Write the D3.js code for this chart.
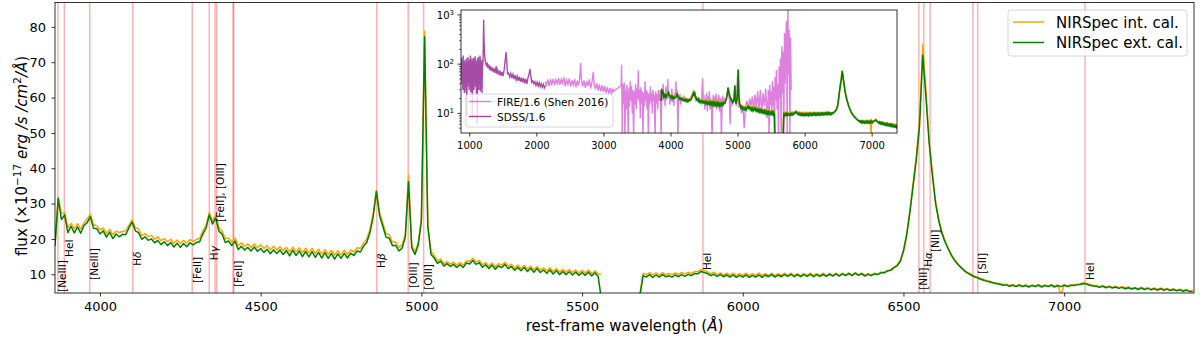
<!DOCTYPE html>
<html>
<head>
<meta charset="utf-8">
<script src="https://cdn.jsdelivr.net/npm/d3@7"></script>
<style>
  body { margin: 0; background: #fff; }
  svg { display: block; font-family: "DejaVu Sans", sans-serif; }
</style>
</head>
<body>
<script>
// ---- data ----
// NIRSpec spectrum, sampled every 10 A, two chunks either side of the detector gap
const waveBlue = d3.range(3860, 5561, 10);
const waveRed = d3.range(5680, 7401, 10);

const extBlue = [
  18.0, 31.5, 25.5, 26.8, 21.8, 23.6, 21.7, 23.4, 21.6, 23.8,
  24.6, 26.3, 23.0, 22.9, 21.4, 22.3, 20.5, 21.9, 20.1, 21.4,
  20.6, 21.3, 21.2, 23.1, 24.8, 22.3, 21.8, 19.9, 20.6, 19.6,
  20.0, 18.9, 19.6, 18.4, 19.2, 18.1, 19.0, 17.7, 18.8, 17.6,
  18.7, 17.8, 18.9, 18.3, 19.0, 19.2, 21.4, 23.0, 26.8, 24.2,
  26.0, 22.2, 21.3, 19.0, 19.4, 18.1, 19.4, 17.0, 17.9, 16.9,
  17.6, 16.6, 17.7, 16.5, 17.3, 16.2, 17.1, 15.8, 16.9, 15.9,
  16.9, 15.6, 16.7, 15.2, 16.8, 15.3, 16.6, 15.0, 16.5, 14.9,
  16.4, 14.8, 16.2, 14.6, 16.1, 14.5, 15.9, 14.3, 15.8, 14.5,
  15.9, 14.6, 16.0, 15.3, 16.6, 16.3, 17.9, 19.0, 21.8, 26.3,
  33.4, 26.6, 23.6, 20.5, 20.2, 18.1, 18.2, 16.6, 17.4, 20.5,
  36.2, 17.5, 15.6, 18.2, 25.0, 77.2, 23.5, 15.6, 14.6, 13.1,
  13.7, 12.3, 13.0, 12.2, 12.8, 11.9, 12.7, 11.9, 13.2, 12.9,
  13.9, 12.8, 13.3, 12.0, 12.7, 11.6, 12.6, 11.4, 12.4, 11.9,
  12.8, 11.6, 12.2, 11.1, 12.0, 11.0, 11.9, 10.8, 11.7, 10.6,
  11.6, 10.5, 11.2, 10.3, 11.2, 10.1, 11.0, 9.9, 10.8, 9.9,
  10.7, 9.8, 10.6, 9.7, 10.5, 9.7, 10.6, 9.5, 10.4, 9.4,
  3.0
];
const intBlue = [
  18.5, 31.8, 27.2, 27.4, 23.2, 24.4, 22.9, 24.3, 22.8, 24.5,
  25.6, 27.0, 24.0, 23.7, 22.6, 23.1, 21.6, 22.7, 21.2, 22.2,
  21.8, 22.1, 22.3, 23.8, 25.5, 23.2, 22.8, 20.9, 21.5, 20.7,
  21.0, 19.9, 20.6, 19.5, 20.1, 19.2, 19.9, 18.8, 19.7, 18.7,
  19.6, 18.9, 19.8, 19.3, 19.9, 20.1, 22.3, 23.9, 27.5, 25.1,
  26.8, 23.2, 22.2, 20.0, 20.3, 19.1, 20.3, 18.1, 18.9, 17.9,
  18.6, 17.6, 18.6, 17.5, 18.3, 17.3, 18.1, 16.9, 17.9, 16.9,
  17.8, 16.7, 17.6, 16.3, 17.7, 16.4, 17.5, 16.1, 17.4, 16.0,
  17.3, 15.9, 17.1, 15.7, 17.0, 15.6, 16.8, 15.4, 16.7, 15.5,
  16.8, 15.6, 16.9, 16.3, 17.5, 17.3, 18.8, 20.0, 22.7, 27.2,
  33.8, 27.5, 24.5, 21.5, 21.1, 19.1, 19.1, 17.6, 18.3, 21.3,
  38.1, 18.3, 16.4, 18.9, 25.8, 78.8, 24.3, 16.4, 15.3, 13.8,
  14.3, 13.0, 13.6, 12.9, 13.4, 12.6, 13.3, 12.6, 13.8, 13.6,
  14.5, 13.5, 13.9, 12.7, 13.3, 12.3, 13.2, 12.1, 13.0, 12.6,
  13.4, 12.3, 12.8, 11.8, 12.6, 11.7, 12.5, 11.5, 12.3, 11.3,
  12.2, 11.2, 11.8, 11.0, 11.8, 10.8, 11.6, 10.6, 11.4, 10.6,
  11.3, 10.5, 11.2, 10.4, 11.1, 10.4, 11.2, 10.2, 11.0, 10.1,
  10.0
];
const extRed = [
  4.0, 9.6, 9.2, 9.9, 9.1, 9.8, 9.2, 9.9, 9.3, 9.6,
  9.2, 9.8, 9.3, 9.9, 9.4, 10.0, 9.6, 10.2, 10.1, 10.8,
  10.5, 10.2, 9.6, 10.0, 9.4, 9.9, 9.3, 9.8, 9.2, 9.8,
  9.1, 9.7, 9.2, 9.8, 9.1, 9.7, 9.2, 9.8, 9.1, 9.8,
  9.3, 9.9, 9.2, 9.8, 9.3, 9.9, 9.4, 10.0, 9.3, 9.9,
  9.3, 9.9, 9.4, 10.0, 9.3, 9.9, 9.4, 10.0, 9.4, 10.0,
  9.5, 10.1, 9.5, 10.1, 9.6, 10.2, 9.6, 10.3, 9.7, 10.2,
  9.5, 10.0, 9.6, 10.1, 9.9, 10.4, 10.4, 10.9, 11.1, 11.8,
  12.4, 13.6, 16.5, 21.0, 27.5, 35.0, 42.5, 52.0, 72.0, 60.0,
  47.0, 38.0, 30.0, 25.0, 21.5, 19.0, 17.0, 15.2, 13.8, 12.7,
  11.8, 10.9, 10.3, 9.8, 9.3, 9.0, 8.6, 8.3, 8.0, 7.8,
  7.5, 7.3, 7.2, 6.9, 7.0, 6.6, 6.9, 6.5, 6.9, 6.5,
  6.8, 6.4, 6.8, 6.5, 6.9, 6.4, 6.8, 6.5, 6.9, 6.4,
  6.8, 6.5, 6.9, 6.5, 6.8, 6.8, 7.0, 7.1, 7.4, 7.2,
  6.9, 6.7, 6.6, 6.3, 6.6, 6.2, 6.5, 6.1, 6.4, 6.0,
  6.3, 5.9, 6.2, 5.8, 6.1, 5.7, 6.1, 5.7, 6.0, 5.6,
  5.9, 5.5, 5.9, 5.5, 5.8, 5.4, 5.7, 5.3, 5.6, 5.2,
  5.5, 5.1, 5.1
];
const intRed = [
  4.5, 10.3, 9.9, 10.5, 9.8, 10.4, 9.8, 10.5, 9.9, 10.2,
  9.9, 10.4, 10.0, 10.5, 10.1, 10.6, 10.2, 10.8, 10.7, 11.3,
  11.1, 10.7, 10.1, 10.6, 9.9, 10.4, 9.8, 10.3, 9.7, 10.3,
  9.6, 10.2, 9.7, 10.3, 9.6, 10.2, 9.7, 10.3, 9.6, 10.2,
  9.7, 10.3, 9.6, 10.2, 9.7, 10.3, 9.7, 10.3, 9.6, 10.2,
  9.6, 10.2, 9.7, 10.3, 9.6, 10.2, 9.7, 10.3, 9.7, 10.3,
  9.7, 10.3, 9.7, 10.3, 9.8, 10.4, 9.8, 10.5, 9.8, 10.3,
  9.7, 10.2, 9.8, 10.3, 10.1, 10.6, 10.6, 11.1, 11.3, 12.0,
  12.6, 13.9, 16.9, 21.5, 28.0, 35.8, 43.5, 54.0, 75.0, 62.0,
  48.0, 38.8, 30.6, 25.5, 21.9, 19.3, 17.3, 15.5, 14.0, 12.9,
  12.0, 11.1, 10.5, 10.0, 9.5, 9.2, 8.8, 8.5, 8.2, 8.0,
  7.7, 7.5, 7.4, 7.1, 7.2, 6.8, 7.1, 6.7, 7.1, 6.7,
  7.0, 6.6, 7.0, 6.7, 7.1, 6.6, 7.0, 6.7, 7.1, 6.6,
  7.0, 4.0, 7.1, 6.7, 7.0, 7.0, 7.2, 7.3, 7.6, 7.4,
  7.1, 6.9, 6.8, 6.5, 6.8, 6.4, 6.7, 6.3, 6.6, 6.2,
  6.5, 6.1, 6.4, 6.0, 6.3, 5.9, 6.3, 5.9, 6.2, 5.8,
  6.1, 5.7, 6.1, 5.7, 6.0, 5.6, 5.9, 5.5, 5.8, 5.4,
  5.7, 5.3, 5.3
];

// emission lines: rest wavelength, label, label foot (flux units)
const lineWaves = [3869, 3889, 3968, 4102, 4287, 4340, 4358, 4363, 4414, 4416, 4861, 4959, 5007, 5876, 6548, 6563, 6583, 6716, 6731, 7065];
const lineNames = ['[NeIII]', 'HeI', '[NeIII]', 'Hδ', '[FeII]', 'Hγ', '[FeII], [OIII]', '', '', '[FeII]', 'Hβ', '[OIII]', '[OIII]', 'HeI', '[NII]', 'Hα', '[NII]', '', '[SII]', 'HeI'];
const lineLabelY = [5.0, 14.9, 8.4, 12.4, 7.5, 14.0, 24.8, null, null, 6.4, 11.8, 6.1, 5.6, 11.2, 5.6, 12.1, 16.3, null, 10.1, 8.4];

// inset: SDSS and FIRE spectra (already divided by 1.6), [wavelength, flux]
const sdssPoints = [
  [878,70],[884,135],[890,40],[896,110],[902,30],[908,150],[914,45],[920,100],[926,26],[932,120],
  [938,50],[944,95],[950,28],[956,130],[962,9],[968,110],[974,35],[980,140],[986,60],[992,90],
  [998,30],[1004,125],[1010,45],[1016,150],[1022,27],[1028,105],[1034,55],[1040,130],[1046,8],[1052,115],
  [1058,40],[1064,135],[1070,30],[1076,100],[1082,50],[1088,145],[1094,35],[1100,120],[1106,25],[1112,110],
  [1118,6],[1124,130],[1130,45],[1136,140],[1142,30],[1148,115],[1154,55],[1160,150],[1166,28],[1172,125],
  [1178,40],[1184,110],[1190,26],[1196,120],[1202,95],[1208,200],[1214,800],[1220,300],[1228,160],[1236,120],
  [1246,105],[1256,90],[1266,108],[1276,84],[1290,98],[1304,76],[1318,90],[1332,72],[1346,86],[1360,68],
  [1376,82],[1392,66],[1400,92],[1408,64],[1424,76],[1440,61],[1456,74],[1472,58],[1488,70],[1504,57],
  [1520,78],[1540,140],[1549,175],[1558,110],[1570,64],[1586,66],[1602,55],[1618,65],[1634,52],[1650,62],
  [1666,50],[1682,60],[1698,48],[1714,57],[1730,46],[1746,56],[1762,44],[1778,53],[1794,43],[1810,52],
  [1826,41],[1842,50],[1858,40],[1874,52],[1890,62],[1904,80],[1915,60],[1930,43],[1946,46],[1962,40],
  [1978,44],[1994,37],[2010,43],[2026,36],[2042,42],[2058,35],[2074,40],[2090,34],[2106,39],[2122,33],
  [2135,37]
];
const firePoints = [
  [2130,44],[2150,38],[2170,49],[2190,36],[2210,47],[2230,39],[2250,50],[2270,37],[2290,48],[2310,40],
  [2330,52],[2350,38],[2370,49],[2390,41],[2410,54],[2430,36],[2450,48],[2470,39],[2490,51],[2510,35],
  [2530,47],[2550,38],[2570,50],[2590,34],[2610,46],[2630,37],[2650,60],[2660,105],[2670,50],[2690,35],
  [2710,47],[2730,33],[2750,45],[2770,36],[2790,49],[2810,32],[2830,44],[2850,70],[2860,40],[2880,31],
  [2900,41],[2920,29],[2940,39],[2960,28],[2980,37],[3000,27],[3020,36],[3040,26],[3060,34],[3080,25],
  [3100,33],[3120,25],[3140,31],[3150,28],[3265,37],[3270,97],[3275,30],[3280,3],[3285,40],[3290,35],
  [3300,15],[3310,42],[3320,3],[3330,30],[3340,12],[3350,38],[3360,20],[3370,3],[3380,33],[3390,14],
  [3400,45],[3410,18],[3420,36],[3430,10],[3440,30],[3450,3],[3460,28],[3470,15],[3480,40],[3490,12],
  [3500,32],[3510,20],[3520,75],[3530,18],[3540,30],[3550,8],[3560,34],[3570,16],[3580,28],[3590,3],
  [3600,26],[3610,14],[3620,45],[3630,18],[3640,30],[3650,12],[3660,27],[3670,3],[3680,25],[3690,15],
  [3700,35],[3710,17],[3720,26],[3730,10],[3740,30],[3750,18],[3760,24],[3770,3],[3780,28],[3790,16],
  [3800,25],[3810,12],[3820,30],[3830,18],[3840,22],[3850,30],[3860,3],[3870,28],[3880,18],[3890,40],
  [3900,20],[3910,26],[3920,14],[3930,35],[3940,19],[3950,24],[3960,50],[3970,20],[3980,28],[3990,15],
  [4000,24],[4010,18],[4020,32],[4030,17],[4040,22],[4050,14],[4060,26],[4070,20],[4080,45],[4090,21],
  [4100,30],[4110,3],[4120,22],[4130,18],[4140,25],[4150,16],[4200,22],[4250,17],[4300,21],[4340,26],
  [4380,18],[4420,20],[4460,16],[4470,30],[4480,52],[4490,18],[4500,24],[4510,12],[4520,20],[4530,14],
  [4540,26],[4550,11],[4560,22],[4570,15],[4580,28],[4590,12],[4600,20],[4610,16],[4620,3],[4630,18],
  [4640,24],[4650,13],[4660,22],[4670,17],[4680,25],[4690,12],[4700,20],[4710,15],[4720,24],[4730,11],
  [4740,21],[4750,16],[4760,3],[4770,19],[4780,23],[4790,14],[4800,20],[4820,17],[4840,22],[4860,30],
  [4880,18],[4890,6],[4900,20],[4920,15],[4940,18],[4960,35],[4980,14],[5000,60],[5010,40],[5020,13],
  [5040,16],[5060,10],[5080,15],[5100,5],[5120,14],[5140,18],[5160,12],[5180,20],[5200,14],[5220,22],
  [5240,11],[5260,24],[5280,13],[5300,28],[5320,12],[5340,30],[5360,10],[5380,26],[5400,14],[5420,32],
  [5440,8],[5460,30],[5470,3],[5480,38],[5490,15],[5500,28],[5510,10],[5520,45],[5530,14],[5540,35],
  [5550,3],[5560,55],[5570,18],[5580,76],[5590,12],[5600,40],[5610,3],[5620,90],[5630,20],[5640,130],
  [5650,3],[5660,230],[5670,25],[5680,180],[5690,3],[5700,430],[5710,40],[5720,300],[5730,750],[5740,3],
  [5750,1500],[5760,60],[5770,500],[5780,3],[5790,350],[5800,30]
];

// ticks
const xTicks = [4000, 4500, 5000, 5500, 6000, 6500, 7000];
const yTicks = [10, 20, 30, 40, 50, 60, 70, 80];
const insetXTicks = [1000, 2000, 3000, 4000, 5000, 6000, 7000];
const insetYTicks = [10, 100, 1000];

// ---- layout ----
const width = 1200;
const height = 339;
const plot = { left: 55, right: 1194, top: 2.5, bottom: 293 };
const inset = { left: 461, right: 897, top: 10, bottom: 133 };
const colInt = '#ffa500';
const colExt = '#008000';

const svg = d3.select('body').append('svg')
    .attr('width', width)
    .attr('height', height);

const x = d3.scaleLinear().domain([3860, 7404]).range([plot.left, plot.right]);
const y = d3.scaleLinear().domain([4.7, 86.9]).range([plot.bottom, plot.top]);

const defs = svg.append('defs');
defs.append('clipPath').attr('id', 'clipMain').append('rect')
    .attr('x', plot.left).attr('y', plot.top)
    .attr('width', plot.right - plot.left).attr('height', plot.bottom - plot.top);
defs.append('clipPath').attr('id', 'clipInset').append('rect')
    .attr('x', inset.left).attr('y', inset.top)
    .attr('width', inset.right - inset.left).attr('height', inset.bottom - inset.top);

// build the spectrum chunks
const zip = (w, f) => w.slice(0, Math.min(w.length, f.length)).map((d, i) => ({ w: d, f: f[i] }));
const chunksInt = [zip(waveBlue, intBlue), zip(waveRed, intRed)];
const chunksExt = [zip(waveBlue, extBlue), zip(waveRed, extRed)];

const main = svg.append('g').attr('clip-path', 'url(#clipMain)');

// emission line markers
main.selectAll('line.em')
    .data(lineWaves)
    .enter()
    .append('line')
    .attr('class', 'em')
    .attr('x1', d => x(d)).attr('x2', d => x(d))
    .attr('y1', plot.top).attr('y2', plot.bottom)
    .attr('stroke', 'red')
    .attr('stroke-opacity', 0.3)
    .attr('stroke-width', 1.5);

const lineMain = d3.line().x(d => x(d.w)).y(d => y(d.f));

chunksInt.forEach(c => main.append('path').attr('d', lineMain(c))
    .attr('fill', 'none').attr('stroke', colInt).attr('stroke-width', 1.5).attr('stroke-linejoin', 'round'));
chunksExt.forEach(c => main.append('path').attr('d', lineMain(c))
    .attr('fill', 'none').attr('stroke', colExt).attr('stroke-width', 1.5).attr('stroke-linejoin', 'round'));

// line labels, rotated
const labelData = lineWaves.map((w, i) => ({ w, name: lineNames[i], ly: lineLabelY[i] }))
    .filter(d => d.name !== '');
const labels = svg.append('g')
    .selectAll('text')
    .data(labelData)
    .enter()
    .append('text')
    .attr('transform', d => `translate(${x(d.w) + 8.5},${y(d.ly)}) rotate(-90)`)
    .attr('font-size', 10.5)
    .attr('fill', '#000');
labels.each(function (d) {
    const t = d3.select(this);
    const m = d.name.match(/^(H)([α-ω])$/);
    if (m) {
        t.append('tspan').text(m[1]);
        t.append('tspan').attr('font-style', 'italic').text(m[2]);
    } else {
        t.text(d.name);
    }
});

// frame
svg.append('rect')
    .attr('x', plot.left).attr('y', plot.top)
    .attr('width', plot.right - plot.left).attr('height', plot.bottom - plot.top)
    .attr('fill', 'none').attr('stroke', '#000').attr('stroke-width', 0.8);

// axes
const xAxis = svg.append('g')
    .attr('transform', `translate(0,${plot.bottom})`)
    .call(d3.axisBottom(x).tickValues(xTicks).tickSize(3.5).tickPadding(5).tickFormat(d3.format('d')));
const yAxis = svg.append('g')
    .attr('transform', `translate(${plot.left},0)`)
    .call(d3.axisLeft(y).tickValues(yTicks).tickSize(3.5).tickPadding(5.5).tickFormat(d3.format('d')));
[xAxis, yAxis].forEach(a => {
    a.select('.domain').remove();
    a.selectAll('line').attr('stroke', '#000').attr('stroke-width', 0.8);
    a.selectAll('text').attr('font-size', 13).attr('fill', '#000').attr('font-family', 'DejaVu Sans');
});

// axis labels
const xl = svg.append('text')
    .attr('x', (plot.left + plot.right) / 2)
    .attr('y', 331)
    .attr('text-anchor', 'middle')
    .attr('font-size', 15);
xl.append('tspan').text('rest-frame wavelength (');
xl.append('tspan').attr('font-style', 'italic').text('Å');
xl.append('tspan').text(')');

const yl = svg.append('text')
    .attr('transform', 'translate(26.5,156) rotate(-90)')
    .attr('text-anchor', 'middle')
    .attr('font-size', 15);
yl.append('tspan').text('flux (×10');
yl.append('tspan').attr('font-size', 10.5).attr('dy', -6).text('−17');
yl.append('tspan').attr('dy', 6).text(' ');
yl.append('tspan').attr('font-style', 'italic').text('erg /s /cm');
yl.append('tspan').attr('font-size', 10.5).attr('dy', -6).text('2');
yl.append('tspan').attr('dy', 6).attr('font-style', 'italic').text('/Å');
yl.append('tspan').text(')');

// main legend
const leg = svg.append('g');
leg.append('rect')
    .attr('x', 1008).attr('y', 10).attr('width', 179).attr('height', 46)
    .attr('rx', 3).attr('fill', '#fff').attr('fill-opacity', 0.8)
    .attr('stroke', '#cccccc').attr('stroke-width', 0.8);
[['NIRSpec int. cal.', colInt], ['NIRSpec ext. cal.', colExt]].forEach((e, i) => {
    const yy = 22 + i * 20.5;
    leg.append('line').attr('x1', 1013).attr('x2', 1044).attr('y1', yy).attr('y2', yy)
        .attr('stroke', e[1]).attr('stroke-width', 1.5);
    leg.append('text').attr('x', 1056).attr('y', yy + 5.5).attr('font-size', 15).text(e[0]);
});

// ---- inset ----
const ix = d3.scaleLinear().domain([876, 7378]).range([inset.left, inset.right]);
const iy = d3.scaleLog().domain([4, 1260]).range([inset.bottom, inset.top]);

svg.append('rect')
    .attr('x', inset.left).attr('y', inset.top)
    .attr('width', inset.right - inset.left).attr('height', inset.bottom - inset.top)
    .attr('fill', '#fff');

const ig = svg.append('g').attr('clip-path', 'url(#clipInset)');
const linePairs = d3.line().x(d => ix(d[0])).y(d => iy(d[1]));
const lineInset = d3.line().x(d => ix(d.w)).y(d => iy(d.f));

ig.append('path').attr('d', linePairs(firePoints))
    .attr('fill', 'none').attr('stroke', '#bf00bf').attr('stroke-opacity', 0.5).attr('stroke-width', 1.4);
ig.append('path').attr('d', linePairs(sdssPoints))
    .attr('fill', 'none').attr('stroke', '#800080').attr('stroke-opacity', 0.7).attr('stroke-width', 1.4);
chunksInt.forEach(c => ig.append('path').attr('d', lineInset(c))
    .attr('fill', 'none').attr('stroke', colInt).attr('stroke-width', 1.6));
chunksExt.forEach(c => ig.append('path').attr('d', lineInset(c))
    .attr('fill', 'none').attr('stroke', colExt).attr('stroke-width', 1.6));

svg.append('rect')
    .attr('x', inset.left).attr('y', inset.top)
    .attr('width', inset.right - inset.left).attr('height', inset.bottom - inset.top)
    .attr('fill', 'none').attr('stroke', '#000').attr('stroke-width', 0.8);

const ixAxis = svg.append('g')
    .attr('transform', `translate(0,${inset.bottom})`)
    .call(d3.axisBottom(ix).tickValues(insetXTicks).tickSize(3.5).tickPadding(5).tickFormat(d3.format('d')));
ixAxis.select('.domain').remove();
ixAxis.selectAll('line').attr('stroke', '#000').attr('stroke-width', 0.8);
ixAxis.selectAll('text').attr('font-size', 10).attr('fill', '#000').attr('font-family', 'DejaVu Sans');

// log y ticks: majors with labels, minors without
const minorTicks = [];
[1, 10, 100].forEach(dec => d3.range(2, 10).forEach(k => {
    const v = dec * k;
    if (v > 4 && v < 1260) minorTicks.push(v);
}));
svg.append('g').selectAll('line')
    .data(minorTicks).enter().append('line')
    .attr('x1', inset.left - 2).attr('x2', inset.left)
    .attr('y1', d => iy(d)).attr('y2', d => iy(d))
    .attr('stroke', '#000').attr('stroke-width', 0.6);
const iyG = svg.append('g');
iyG.selectAll('line')
    .data(insetYTicks).enter().append('line')
    .attr('x1', inset.left - 3.5).attr('x2', inset.left)
    .attr('y1', d => iy(d)).attr('y2', d => iy(d))
    .attr('stroke', '#000').attr('stroke-width', 0.8);
iyG.selectAll('text')
    .data(insetYTicks).enter().append('text')
    .attr('x', inset.left - 7)
    .attr('y', d => iy(d) + 4)
    .attr('text-anchor', 'end')
    .attr('font-size', 10)
    .each(function (d) {
        const t = d3.select(this);
        t.append('tspan').text('10');
        t.append('tspan').attr('font-size', 7).attr('dy', -4).text(Math.round(Math.log10(d)));
    });

// inset legend
const ileg = svg.append('g');
ileg.append('rect')
    .attr('x', 466).attr('y', 94).attr('width', 147).attr('height', 33)
    .attr('rx', 2.5).attr('fill', '#fff').attr('fill-opacity', 0.8)
    .attr('stroke', '#cccccc').attr('stroke-width', 0.8);
[['FIRE/1.6 (Shen 2016)', '#bf00bf', 0.5], ['SDSS/1.6', '#800080', 0.7]].forEach((e, i) => {
    const yy = 101.5 + i * 15;
    ileg.append('line').attr('x1', 469).attr('x2', 491).attr('y1', yy).attr('y2', yy)
        .attr('stroke', e[1]).attr('stroke-opacity', e[2]).attr('stroke-width', 1.5);
    ileg.append('text').attr('x', 497).attr('y', yy + 4).attr('font-size', 10.5).text(e[0]);
});
</script>
</body>
</html>
